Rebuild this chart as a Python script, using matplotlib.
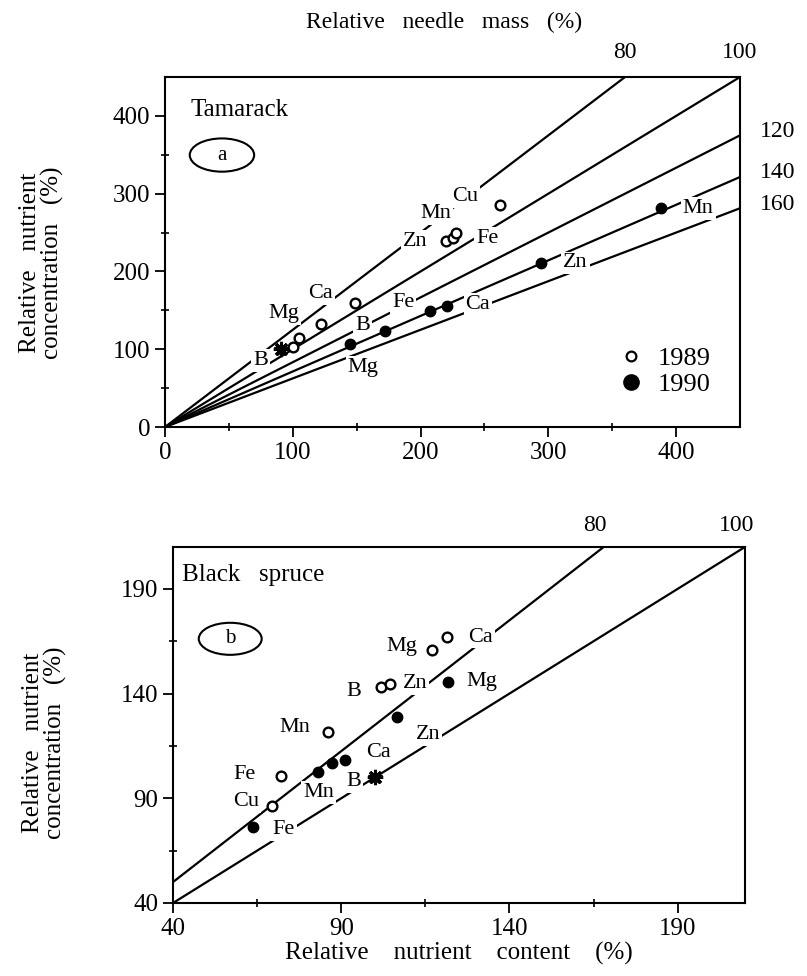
import numpy as np
import matplotlib
matplotlib.use("Agg")
import matplotlib.pyplot as plt
from matplotlib.patches import Ellipse
from matplotlib.lines import Line2D

plt.rcParams['font.family'] = ['Liberation Serif', 'DejaVu Serif']

# ---- data ----
# (a) Tamarack
tam_mass = [80, 100, 120, 140, 160]          # isolines of relative needle mass (%)
tam89_el = ['B', 'Mg', 'Ca', '', 'Zn', 'Fe', 'Mn', 'Cu']
tam89_x = [100, 105, 122, 149, 220, 225, 228, 262]
tam89_y = [103, 115, 132, 160, 239, 243, 249, 286]
tam90_el = ['Mg', 'B', 'Fe', 'Ca', 'Zn', 'Mn']
tam90_x = [145, 172, 207, 221, 294, 388]
tam90_y = [107, 124, 149, 156, 211, 281]
tam_ref = (91, 100)

# (b) Black spruce
bs_mass = [80, 100]
bs89_el = ['Cu', 'Fe', 'Mn', 'B', 'Zn', 'Mg', 'Ca']
bs89_x = [69.5, 72, 86, 101.9, 104.6, 117, 121.5]
bs89_y = [86.4, 100.8, 121.8, 142.9, 144.8, 160.6, 167]
bs90_el = ['Fe', 'Mn', '', 'Ca', 'Zn', 'Mg']
bs90_x = [63.8, 83.2, 87.3, 91.2, 106.7, 121.8]
bs90_y = [76.4, 102.7, 107, 108.4, 129, 145.3]
bs_ref = (100, 100)

# label offsets (points)
tam89_off = [None, (-11, 17), (0, 22), None, (-22, 0), (25, 0), (-15, 14), (-25, 6)]
tam90_off = [(9, -17), (-16, 4), (-19, 6), (22, 1), (25, 0), (27, 0)]
bs89_off = [(-19, 3), (-26, 1), (-24, 3), (-20, -3), (18, 0), (-22, 3), (24, 0)]
bs90_off = [(22, -2), (0, -15), None, (24, 5), (22, -13), (24, 1)]

lab_box = dict(boxstyle='square,pad=0.08', fc='white', ec='none')
FS = 17


def isolines(ax, masses, xmax, ymax):
    for m in masses:
        x = np.array([0, xmax], dtype=float)
        y = 100.0 * x / m
        if y[1] > ymax:
            x[1] = ymax * m / 100.0
            y[1] = ymax
        ax.plot(x, y, color='black', lw=1.6, zorder=1)


def put_points(ax, xs, ys, els, offs, filled):
    if filled:
        ax.plot(xs, ys, 'o', color='black', ms=7.5, zorder=4)
    else:
        ax.plot(xs, ys, 'o', mfc='white', mec='black', mew=1.7, ms=7, zorder=4)
    for x, y, e, o in zip(xs, ys, els, offs):
        if e and o:
            ax.annotate(e, (x, y), xytext=o, textcoords='offset points',
                        ha='center', va='center', fontsize=FS - 1, bbox=lab_box, zorder=3)


def style_axes(ax):
    for s in ax.spines.values():
        s.set_linewidth(1.5)
    ax.tick_params(which='major', direction='out', length=7, width=1.3,
                   labelsize=FS + 1, top=False, right=False)
    ax.tick_params(which='minor', direction='inout', length=6, width=1.2,
                   top=False, right=False)


fig = plt.figure(figsize=(8.07, 9.76), dpi=100)

# ---------------- (a) Tamarack ----------------
ax1 = fig.add_axes([0.2045, 0.5625, 0.7125, 0.3586])
ax1.set_xlim(0, 450)
ax1.set_ylim(0, 450)
isolines(ax1, tam_mass, 450, 450)
put_points(ax1, tam89_x, tam89_y, tam89_el, tam89_off, False)
put_points(ax1, tam90_x, tam90_y, tam90_el, tam90_off, True)
ax1.plot(*tam_ref, marker=(8, 2, 0), color='black', ms=11, mew=2.2, zorder=5)
ax1.plot(*tam_ref, marker='*', color='black', ms=10, zorder=5)
ax1.annotate('B', tam_ref, xytext=(-15, -8), textcoords='offset points',
             ha='center', va='center', fontsize=FS - 1, bbox=lab_box, zorder=3)
ax1.set_xticks([0, 100, 200, 300, 400])
ax1.set_xticks([50, 150, 250, 350], minor=True)
ax1.set_yticks([0, 100, 200, 300, 400])
ax1.set_yticks([50, 150, 250, 350], minor=True)
style_axes(ax1)
ax1.set_ylabel('Relative   nutrient\nconcentration   (%)', fontsize=FS + 1, linespacing=1.0)
ax1.yaxis.set_label_coords(-0.175, 0.47)
ax1.text(0.045, 0.905, 'Tamarack', transform=ax1.transAxes, fontsize=FS + 1,
         ha='left', va='center')
ax1.add_patch(Ellipse((0.099, 0.777), 0.112, 0.095, transform=ax1.transAxes,
                      fc='none', ec='black', lw=1.5))
ax1.text(0.099, 0.777, 'a', transform=ax1.transAxes, fontsize=15,
         ha='center', va='center')

# mass labels
for m in tam_mass:
    yend = 100.0 * 450 / m
    if yend >= 450:
        ax1.annotate(str(m), (450 * m / 100.0, 450), xytext=(0, 10),
                     textcoords='offset points', ha='center', va='bottom',
                     fontsize=FS, annotation_clip=False)
    else:
        ax1.annotate(str(m), (450, yend), xytext=(14, 3),
                     textcoords='offset points', ha='left', va='center',
                     fontsize=FS, annotation_clip=False)
fig.text(0.55, 0.977, 'Relative   needle   mass   (%)', fontsize=FS,
         ha='center', va='center')

leg = [Line2D([], [], ls='none', marker='o', mfc='white', mec='black', mew=1.6, ms=7),
       Line2D([], [], ls='none', marker='o', color='black', ms=11)]
ax1.legend(leg, ['1989', '1990'], loc='lower right', bbox_to_anchor=(0.99, 0.02),
           frameon=False, fontsize=FS + 2, handletextpad=0.5, labelspacing=0.1,
           handlelength=1.0)

# ---------------- (b) Black spruce ----------------
ax2 = fig.add_axes([0.2144, 0.0748, 0.7088, 0.3648])
ax2.set_xlim(40, 210)
ax2.set_ylim(40, 210)
isolines(ax2, bs_mass, 210, 210)
put_points(ax2, bs89_x, bs89_y, bs89_el, bs89_off, False)
put_points(ax2, bs90_x, bs90_y, bs90_el, bs90_off, True)
ax2.plot(*bs_ref, marker=(8, 2, 0), color='black', ms=11, mew=2.2, zorder=5)
ax2.plot(*bs_ref, marker='*', color='black', ms=10, zorder=5)
ax2.annotate('B', bs_ref, xytext=(-15, -3), textcoords='offset points',
             ha='center', va='center', fontsize=FS - 1, bbox=lab_box, zorder=3)
ax2.set_xticks([40, 90, 140, 190])
ax2.set_xticks([65, 115, 165], minor=True)
ax2.set_yticks([40, 90, 140, 190])
ax2.set_yticks([65, 115, 165], minor=True)
style_axes(ax2)
ax2.set_ylabel('Relative   nutrient\nconcentration   (%)', fontsize=FS + 1, linespacing=1.0)
ax2.yaxis.set_label_coords(-0.185, 0.45)
ax2.set_xlabel('Relative    nutrient    content    (%)', fontsize=FS + 1, labelpad=2)
ax2.text(0.015, 0.92, 'Black   spruce', transform=ax2.transAxes, fontsize=FS + 1,
         ha='left', va='center')
ax2.add_patch(Ellipse((0.10, 0.742), 0.11, 0.09, transform=ax2.transAxes,
                      fc='none', ec='black', lw=1.5))
ax2.text(0.10, 0.742, 'b', transform=ax2.transAxes, fontsize=15,
         ha='center', va='center')
for m in bs_mass:
    ax2.annotate(str(m), (210 * m / 100.0, 210), xytext=(-6, 8),
                 textcoords='offset points', ha='center', va='bottom',
                 fontsize=FS, annotation_clip=False)

fig.savefig('out.png', dpi=100)
